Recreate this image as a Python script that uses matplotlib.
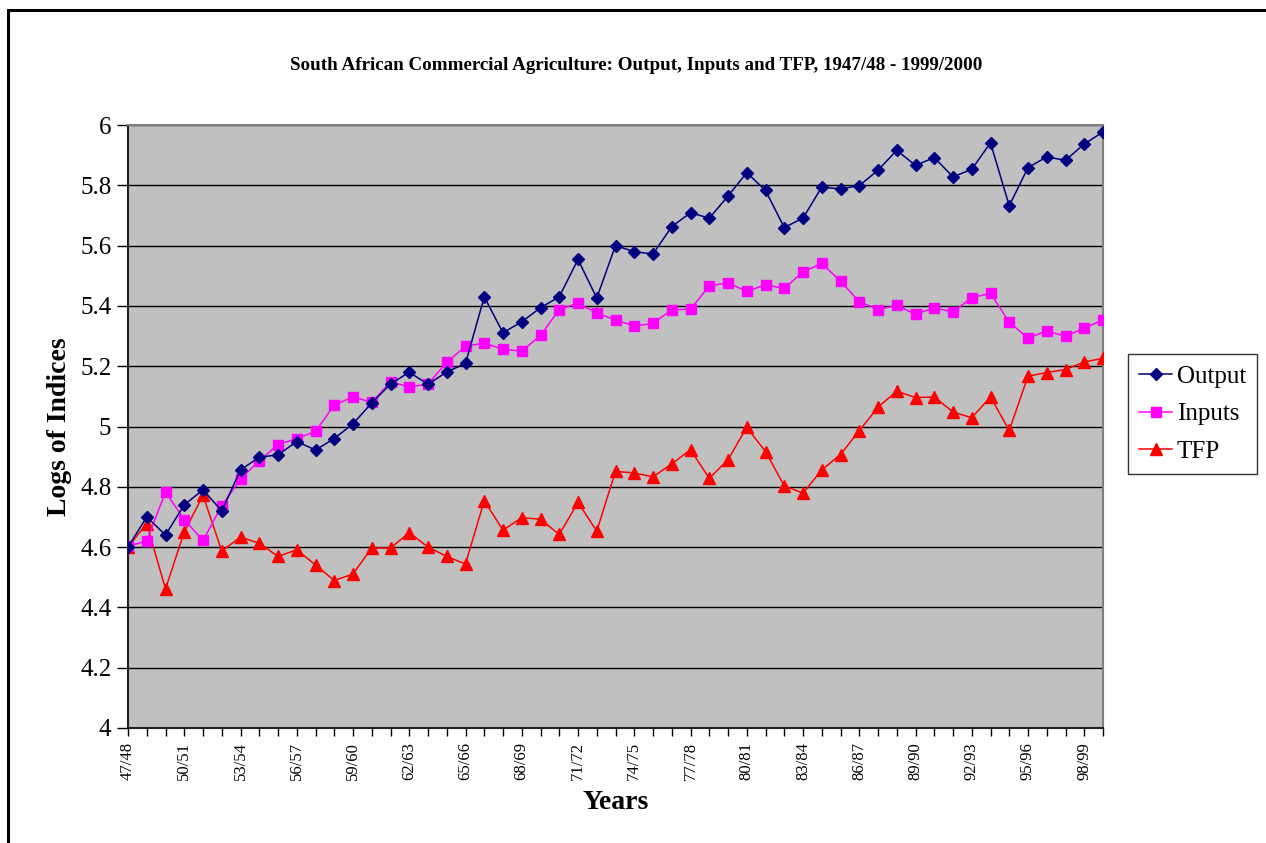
import matplotlib
matplotlib.use('Agg')
from matplotlib import pyplot as plt
from matplotlib.patches import Rectangle

plt.rcParams['font.family'] = 'Liberation Serif'

years = ['47/48', '48/49', '49/50', '50/51', '51/52', '52/53', '53/54', '54/55', '55/56',
         '56/57', '57/58', '58/59', '59/60', '60/61', '61/62', '62/63', '63/64', '64/65',
         '65/66', '66/67', '67/68', '68/69', '69/70', '70/71', '71/72', '72/73', '73/74',
         '74/75', '75/76', '76/77', '77/78', '78/79', '79/80', '80/81', '81/82', '82/83',
         '83/84', '84/85', '85/86', '86/87', '87/88', '88/89', '89/90', '90/91', '91/92',
         '92/93', '93/94', '94/95', '95/96', '96/97', '97/98', '98/99', '99/00']

output = [4.60, 4.70, 4.64, 4.74, 4.79, 4.72, 4.856, 4.898, 4.906, 4.950, 4.922,
          4.960, 5.009, 5.078, 5.141, 5.180, 5.140, 5.181, 5.209, 5.430, 5.311,
          5.347, 5.394, 5.430, 5.554, 5.426, 5.600, 5.580, 5.572, 5.663, 5.709,
          5.691, 5.764, 5.842, 5.783, 5.660, 5.691, 5.794, 5.788, 5.799, 5.850,
          5.916, 5.866, 5.892, 5.828, 5.853, 5.941, 5.732, 5.859, 5.894, 5.883,
          5.937, 5.977]

inputs = [4.603, 4.620, 4.783, 4.691, 4.622, 4.737, 4.826, 4.886, 4.940, 4.960,
          4.984, 5.071, 5.098, 5.080, 5.148, 5.131, 5.141, 5.213, 5.266, 5.277,
          5.256, 5.250, 5.302, 5.388, 5.409, 5.376, 5.354, 5.333, 5.342, 5.387,
          5.389, 5.466, 5.477, 5.448, 5.470, 5.458, 5.513, 5.541, 5.482, 5.414,
          5.388, 5.402, 5.372, 5.394, 5.380, 5.427, 5.442, 5.346, 5.293, 5.317,
          5.299, 5.326, 5.354]

tfp = [4.600, 4.678, 4.461, 4.650, 4.772, 4.587, 4.633, 4.613, 4.569, 4.591,
       4.541, 4.489, 4.511, 4.597, 4.597, 4.648, 4.600, 4.569, 4.544, 4.754,
       4.656, 4.698, 4.692, 4.642, 4.748, 4.653, 4.851, 4.846, 4.833, 4.876,
       4.923, 4.828, 4.890, 4.997, 4.917, 4.803, 4.779, 4.856, 4.907, 4.986,
       5.064, 5.117, 5.096, 5.098, 5.048, 5.029, 5.098, 4.987, 5.167, 5.179,
       5.189, 5.214, 5.226]

fig = plt.figure(figsize=(12.66, 8.43), dpi=100)
ax = fig.add_axes([128 / 1266, 1 - 728 / 843, (1103 - 128) / 1266, (728 - 125) / 843])
ax.set_facecolor('#C0C0C0')

x = list(range(len(years)))
ax.plot(x, output, color='#000080', marker='D', markersize=6.5, linewidth=1.1,
        label='Output', zorder=5)
ax.plot(x, inputs, color='#FF00FF', marker='s', markersize=7, linewidth=1.1,
        label='Inputs', zorder=4)
ax.plot(x, tfp, color='#FF0000', marker='^', markersize=8, linewidth=1.1,
        label='TFP', zorder=3)

ax.set_xlim(0, len(years) - 1)
ax.set_ylim(4, 6)
ax.set_yticks([4 + 0.2 * k for k in range(11)])
ax.set_yticklabels(['4', '4.2', '4.4', '4.6', '4.8', '5', '5.2', '5.4', '5.6', '5.8', '6'])
ax.yaxis.grid(True, color='black', linewidth=1.0)
ax.set_axisbelow(True)

ax.set_xticks(x)
ax.set_xticklabels([y if i % 3 == 0 else '' for i, y in enumerate(years)],
                   rotation=90, fontsize=12)
ax.tick_params(axis='y', labelsize=18, length=8, width=1, direction='out', pad=4)
ax.tick_params(axis='x', length=6, width=1, direction='out', pad=4)

for side in ['left', 'bottom']:
    ax.spines[side].set_color('#202020')
    ax.spines[side].set_linewidth(1.5)
for side in ['top', 'right']:
    ax.spines[side].set_color('#808080')
    ax.spines[side].set_linewidth(1.5)

ax.set_xlabel('Years', fontsize=20, fontweight='bold', labelpad=7)
ax.set_ylabel('Logs of Indices', fontsize=20, fontweight='bold', labelpad=6)

fig.text(636 / 1266, 1 - 65 / 843,
         'South African Commercial Agriculture: Output, Inputs and TFP, 1947/48 - 1999/2000',
         ha='center', va='center', fontsize=13.7, fontweight='bold')

leg = fig.legend(loc='center left', bbox_to_anchor=(1128 / 1266, 1 - 414 / 843),
                 fontsize=18, frameon=True, fancybox=False, shadow=False,
                 handlelength=1.3, handletextpad=0.2, borderpad=0.45, labelspacing=0.6,
                 borderaxespad=0)
leg.get_frame().set_edgecolor('black')
leg.get_frame().set_linewidth(1.0)

# outer chart frame
fig.patches.append(Rectangle((8 / 1266, -0.1), 1.2, 1 - 10 / 843 + 0.1,
                             transform=fig.transFigure, fill=False,
                             edgecolor='black', linewidth=2.2, zorder=0))

fig.savefig('out.png', dpi=100)
